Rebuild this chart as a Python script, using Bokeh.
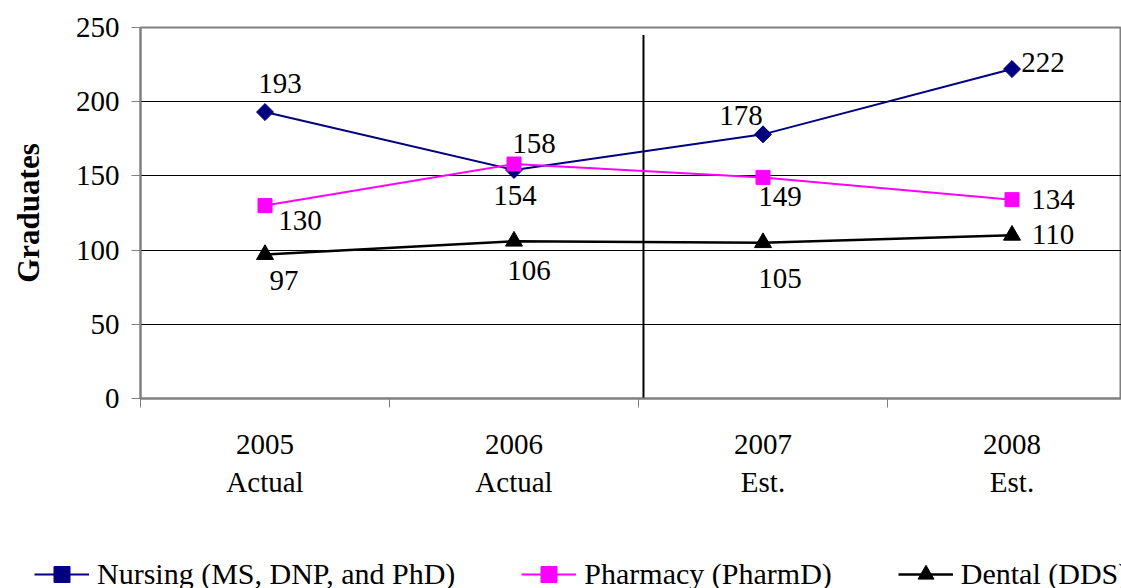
import math
from bokeh.plotting import figure
from bokeh.models import (ColumnDataSource, LabelSet, Legend, LegendItem,
                          FixedTicker, Range1d)
from bokeh.embed import file_html
from bokeh.resources import INLINE

# ---- data ----
years = ["2005", "2006", "2007", "2008"]
status = ["Actual", "Actual", "Est.", "Est."]
nursing = [193, 154, 178, 222]
pharmacy = [130, 158, 149, 134]
dental = [97, 106, 105, 110]
series_names = ["Nursing (MS, DNP, and PhD)", "Pharmacy (PharmD)", "Dental (DDS)"]
y_ticks = [0, 50, 100, 150, 200, 250]
divider_x = 2.02
divider_top = 245

# ---- label offsets (styling) ----
nurs_off = ([15, 1, -22, 31], [29, -26, 19, 7])
phar_off = ([35, 20, 17, 41], [-15, 21, -19, 0])
dent_off = ([19, 15, 17, 41], [-26, -29, -36, 1])

FONT = "Liberation Serif"
FS = "29px"
NAVY, MAGENTA, BLACK = "#000080", "#FF00FF", "black"

xs = [i + 0.5 for i in range(len(years))]

p = figure(width=1121, height=540, output_backend="svg", toolbar_location=None,
           x_range=Range1d(0, 981 / 249), y_range=Range1d(0, 250),
           min_border_left=140, min_border_right=0, min_border_top=27,
           min_border_bottom=142, frame_width=981, frame_height=371)
p.background_fill_color = "white"
p.border_fill_color = "white"
p.outline_line_color = "#808080"
p.outline_line_width = 2

# axes
p.yaxis.ticker = FixedTicker(ticks=y_ticks)
p.yaxis.axis_label = "Graduates"
p.yaxis.axis_label_text_font = FONT
p.yaxis.axis_label_text_font_size = "31px"
p.yaxis.axis_label_text_font_style = "bold"
p.yaxis.axis_label_text_color = "black"
p.yaxis.axis_label_standoff = 27
p.yaxis.major_label_text_font = FONT
p.yaxis.major_label_text_font_size = FS
p.yaxis.major_label_text_color = "black"
p.yaxis.major_label_standoff = 12
p.yaxis.axis_line_color = "#808080"
p.yaxis.axis_line_width = 2
p.yaxis.major_tick_line_color = "#808080"
p.yaxis.major_tick_out = 9
p.yaxis.major_tick_in = 0
p.yaxis.minor_tick_line_color = None

p.xaxis.ticker = FixedTicker(ticks=xs, minor_ticks=[0, 1, 2, 3])
p.xaxis.major_label_overrides = {x: f"{y}\n{s}" for x, y, s in zip(xs, years, status)}
p.xaxis.major_label_text_font = FONT
p.xaxis.major_label_text_font_size = FS
p.xaxis.major_label_text_color = "black"
p.xaxis.major_label_text_line_height = 1.2
p.xaxis.major_label_standoff = 20
p.xaxis.major_tick_line_color = None
p.xaxis.minor_tick_line_color = "#808080"
p.xaxis.minor_tick_out = 9
p.xaxis.minor_tick_in = 0
p.xaxis.axis_line_color = "#808080"
p.xaxis.axis_line_width = 2

p.xgrid.grid_line_color = None
p.ygrid.ticker = FixedTicker(ticks=[50, 100, 150, 200])
p.ygrid.grid_line_color = "black"
p.ygrid.grid_line_width = 1

# divider
p.segment(x0=[divider_x], y0=[0], x1=[divider_x], y1=[divider_top],
          line_color="black", line_width=2)

# series
src_n = ColumnDataSource(dict(x=xs, y=nursing, t=[str(v) for v in nursing],
                              dx=nurs_off[0], dy=nurs_off[1]))
src_p = ColumnDataSource(dict(x=xs, y=pharmacy, t=[str(v) for v in pharmacy],
                              dx=phar_off[0], dy=phar_off[1]))
src_d = ColumnDataSource(dict(x=xs, y=dental, t=[str(v) for v in dental],
                              dx=dent_off[0], dy=dent_off[1]))

styles = [
    (src_n, dict(line_color=NAVY, line_width=2),
     dict(marker="square", size=12, angle=math.pi / 4, fill_color=NAVY, line_color=NAVY)),
    (src_p, dict(line_color=MAGENTA, line_width=2),
     dict(marker="square", size=14, fill_color=MAGENTA, line_color=MAGENTA)),
    (src_d, dict(line_color=BLACK, line_width=2.5),
     dict(marker="triangle", size=17, fill_color=BLACK, line_color=BLACK)),
]

for src, lkw, mkw in styles:
    p.line("x", "y", source=src, **lkw)
    p.scatter("x", "y", source=src, **mkw)
    p.add_layout(LabelSet(x="x", y="y", text="t", source=src,
                          x_offset="dx", y_offset="dy",
                          text_align="center", text_baseline="middle",
                          text_font=FONT, text_font_size=FS, text_color="black"))

# ---- legend strip below the chart (series drawn off-view, legend only) ----
lg = figure(width=1121, height=48, output_backend="svg", toolbar_location=None,
            x_range=Range1d(0, 1), y_range=Range1d(0, 1),
            x_axis_type=None, y_axis_type=None, min_border=0)
lg.outline_line_color = None
lg.grid.grid_line_color = None
lg.background_fill_color = "white"
lg.border_fill_color = "white"

items = []
for name, (src, lkw, mkw) in zip(series_names, styles):
    r1 = lg.line("x", "y", source=src, **lkw)
    r2 = lg.scatter("x", "y", source=src, **mkw)
    items.append(LegendItem(label=name, renderers=[r1, r2]))

legend = Legend(items=items, orientation="horizontal", location=(34, -6),
                glyph_width=55, glyph_height=40, label_standoff=8, spacing=66,
                padding=0, margin=0, border_line_color=None,
                background_fill_alpha=0,
                label_text_font=FONT, label_text_font_size="30px",
                label_text_color="black")
lg.add_layout(legend, "center")

open("out.html", "w").write(file_html([p, lg], INLINE))
